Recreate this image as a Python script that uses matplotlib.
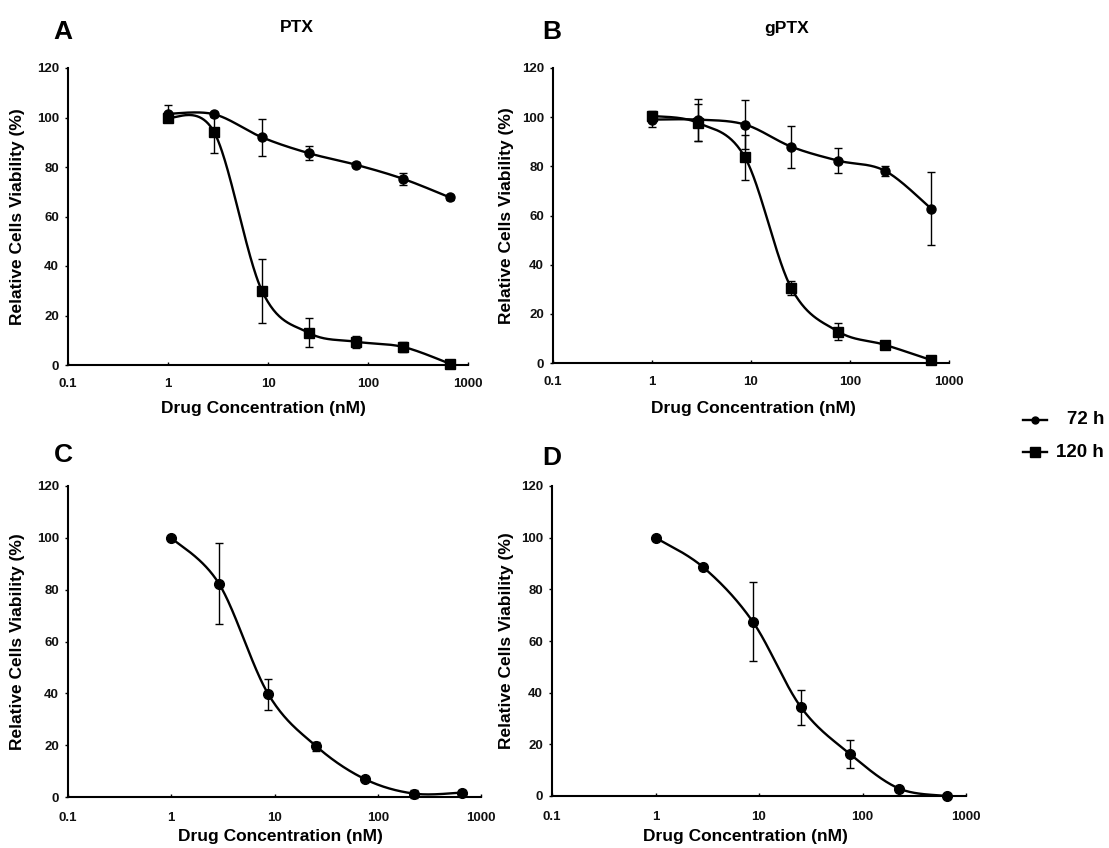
import numpy as np
import matplotlib
matplotlib.use('Agg')
import matplotlib.pyplot as plt
from matplotlib.lines import Line2D

plt.rcParams['font.family'] = ['Liberation Sans', 'DejaVu Sans']
plt.rcParams['font.weight'] = 'bold'
plt.rcParams['axes.labelweight'] = 'bold'

# ---------------- data ----------------
conc = [1.0, 2.9, 8.7, 25.5, 76, 225, 660]          # nM
xticks = [0.1, 1, 10, 100, 1000]
xticklabels = ['0.1', '1', '10', '100', '1000']
yticks = [0, 20, 40, 60, 80, 100, 120]

A_72 = [101.5, 101.3, 92.0, 85.6, 80.9, 75.2, 67.7]
A_72_err = [3.5, 1.0, 7.4, 2.9, 1.0, 2.5, 1.0]
A_120 = [100.0, 94.0, 30.0, 13.0, 9.4, 7.3, 0.5]
A_120_err = [2.0, 8.4, 13.0, 5.8, 2.5, 2.0, 0.5]

B_72 = [99.0, 99.0, 97.0, 88.0, 82.3, 78.2, 62.8]
B_72_err = [3.0, 8.5, 10.0, 8.5, 5.2, 2.0, 15.0]
B_120 = [100.5, 97.7, 83.6, 30.5, 12.8, 7.4, 1.2]
B_120_err = [2.0, 7.5, 9.0, 3.0, 3.5, 1.0, 0.8]

C_72 = [100.0, 82.3, 39.7, 19.5, 6.8, 1.3, 1.7]
C_72_err = [0.5, 15.7, 6.0, 1.8, 0.8, 1.5, 1.0]

D_72 = [100.0, 88.5, 67.5, 34.3, 16.2, 2.9, 0.0]
D_72_err = [0.5, 1.0, 15.3, 6.7, 5.4, 0.7, 0.3]

panel_letters = ['A', 'B', 'C', 'D']
titles = ['PTX', 'gPTX']
xlabel = 'Drug Concentration (nM)'
ylabel = 'Relative Cells Viability (%)'
legend_labels = ['72 h', '120 h']

# ---------------- layout ----------------
W, H = 1109, 848
fig = plt.figure(figsize=(W / 100, H / 100), dpi=100)


def px(x, y):
    return x / W, 1 - y / H


def ax_at(l, r, t, b):
    return fig.add_axes([l / W, 1 - b / H, (r - l) / W, (b - t) / H])


def smooth(x, y, n=50):
    P = np.column_stack([np.log10(x), y])
    Pe = np.vstack([P[0], P, P[-1]])
    out = []
    t = np.linspace(0, 1, n)[:, None]
    for i in range(len(P) - 1):
        p0, p1, p2, p3 = Pe[i], Pe[i + 1], Pe[i + 2], Pe[i + 3]
        c1 = p1 + (p2 - p0) / 6
        c2 = p2 - (p3 - p1) / 6
        seg = (1 - t) ** 3 * p1 + 3 * (1 - t) ** 2 * t * c1 + 3 * (1 - t) * t ** 2 * c2 + t ** 3 * p2
        out.append(seg if i == 0 else seg[1:])
    S = np.vstack(out)
    return 10 ** S[:, 0], S[:, 1]


def series(ax, y, err, marker, ms):
    sx, sy = smooth(conc, y)
    ax.plot(sx, sy, color='black', lw=1.7, clip_on=False, zorder=2)
    eb = ax.errorbar(conc, y, yerr=err, fmt='none', ecolor='black',
                     elinewidth=1.0, capsize=3, capthick=1.0, zorder=3)
    for a in eb.lines[1] + eb.lines[2]:
        a.set_clip_on(False)
    ax.plot(conc, y, linestyle='none', marker=marker, ms=ms, color='black',
            clip_on=False, zorder=4)


def style(ax, tickpad):
    ax.set_xscale('log')
    ax.set_xlim(0.1, 1000)
    ax.set_ylim(0, 120)
    ax.set_xticks(xticks)
    ax.set_xticklabels(xticklabels)
    ax.minorticks_off()
    ax.set_yticks(yticks)
    for s in ['top', 'right']:
        ax.spines[s].set_visible(False)
    for s in ['left', 'bottom']:
        ax.spines[s].set_linewidth(1.5)
    ax.tick_params(axis='y', direction='out', length=2.5, width=1.0, pad=4, labelsize=9.5)
    ax.tick_params(axis='x', direction='in', length=2.5, width=1.0, pad=tickpad, labelsize=9.5)
    for lab in ax.get_xticklabels() + ax.get_yticklabels():
        lab.set_fontweight('bold')
        lab.set_color('#111111')


specs = [
    # l, r, t, b, xlabel center, ylabel center x, tickpad
    (68, 468, 68, 365, (263, 408), 18, 9.5),
    (553, 949, 68, 363, (753, 408), 506, 9.5),
    (68, 481, 486, 797, (280, 836), 18, 10.5),
    (552, 966, 486, 796, (745, 836), 506, 10.5),
]
axes = []
for (l, r, t, b, xlc, ylx, tp) in specs:
    ax = ax_at(l, r, t, b)
    style(ax, tp)
    ax.set_xlabel(xlabel, fontsize=12.5, fontweight='bold', va='center')
    ax.set_ylabel(ylabel, fontsize=12.5, fontweight='bold', va='center', ha='center')
    ax.xaxis.set_label_coords(*px(*xlc), transform=fig.transFigure)
    ax.yaxis.set_label_coords(*px(ylx, (t + b) / 2), transform=fig.transFigure)
    axes.append(ax)

series(axes[0], A_72, A_72_err, 'o', 6.5)
series(axes[0], A_120, A_120_err, 's', 6.5)
series(axes[1], B_72, B_72_err, 'o', 6.5)
series(axes[1], B_120, B_120_err, 's', 6.5)
series(axes[2], C_72, C_72_err, 'o', 7)
series(axes[3], D_72, D_72_err, 'o', 7)

# panel letters and titles
for letter, (x, y) in zip(panel_letters, [(63, 32), (552, 32), (63, 455), (552, 458)]):
    fig.text(*px(x, y), letter, fontsize=19, fontweight='bold', ha='center', va='center')
for title, (x, y) in zip(titles, [(297, 28), (787, 28)]):
    fig.text(*px(x, y), title, fontsize=12.5, fontweight='bold', ha='center', va='center')

# legend (manual, right-aligned text)
for lab, y, mk, ms in zip(legend_labels, [420, 452], ['o', 's'], [5, 6.5]):
    x0, y0 = px(1023, y)
    x1, _ = px(1047, y)
    fig.add_artist(Line2D([x0, x1], [y0, y0], color='black', lw=1.7,
                          transform=fig.transFigure))
    fig.add_artist(Line2D([(x0 + x1) / 2], [y0], marker=mk, ms=ms, color='black',
                          linestyle='none', transform=fig.transFigure))
    fig.text(*px(1104, y), lab, fontsize=13.5, fontweight='bold', ha='right', va='center')

fig.savefig('out.png', dpi=100)
